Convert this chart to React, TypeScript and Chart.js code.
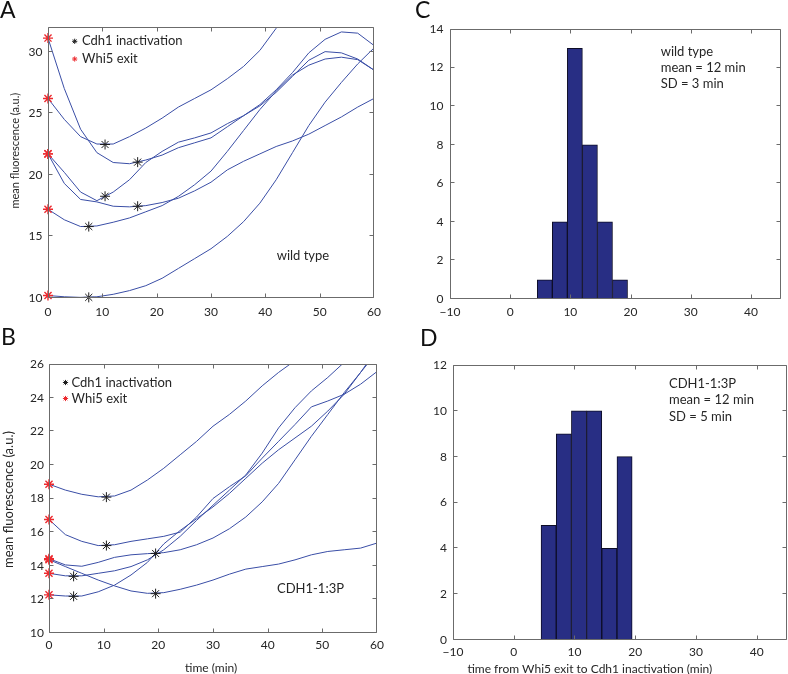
import React, { useEffect, useRef } from 'react';
import { Chart, registerables } from 'chart.js';

Chart.register(...registerables);

const FONT = 'Lato, "Open Sans", "DejaVu Sans", sans-serif';
const LINE_COLOR = '#3a4ea6';
const CDH1_COLOR = '#1e1e1e';
const WHI5_COLOR = '#ec2a2f';
const BAR_COLOR = '#282e84';
const BAR_EDGE = '#0d0d26';
const AXIS_COLOR = '#6b6b6b';
const TEXT_COLOR = '#262626';

// ---------- shared sampling grid (min) ----------
const sampleTimes = [0, 3, 6, 9, 12, 15, 18, 21, 24, 27, 30, 33, 36, 39, 42, 45, 48, 51, 54, 57, 60];
const WHI5_EXIT_TIME = 0;

// ---------- Panel A: wild type single-cell traces ----------
const wtCell1 = [31.1, 27.0, 23.7, 21.8, 21.0, 20.9, 21.2, 21.6, 22.2, 22.6, 23.0, 23.9, 24.8, 25.7, 26.9, 28.3, 29.9, 31.0, 31.6, 31.5, 30.5];
const wtCell2 = [26.2, 24.5, 23.1, 22.5, 22.5, 23.1, 23.8, 24.6, 25.5, 26.2, 26.9, 27.8, 28.8, 30.1, 31.9, 33.6];
const wtCell3 = [21.7, 20.2, 18.6, 17.9, 18.6, 19.6, 21.0, 21.9, 22.65, 23.0, 23.4, 24.15, 24.8, 25.6, 26.7, 28.0, 29.3, 30.0, 29.9, 29.4, 28.5];
const wtCell4 = [21.7, 19.3, 18.0, 17.8, 17.45, 17.4, 17.5, 17.75, 18.1, 18.7, 19.4, 20.4, 21.1, 21.7, 22.3, 22.75, 23.3, 24.0, 24.7, 25.5, 26.2];
const wtCell5 = [17.2, 16.35, 15.8, 15.85, 16.15, 16.5, 17.0, 17.5, 18.25, 19.2, 20.3, 21.9, 23.6, 25.3, 26.8, 28.1, 28.9, 29.4, 29.55, 29.35, 28.5];
const wtCell6 = [10.2, 10.1, 10.05, 10.1, 10.3, 10.6, 11.0, 11.6, 12.4, 13.2, 14.0, 15.0, 16.2, 17.7, 19.6, 21.8, 24.0, 25.9, 27.5, 29.0, 30.3];
const wtTraces = [wtCell1, wtCell2, wtCell3, wtCell4, wtCell5, wtCell6];
const wtWhi5ExitValue = [31.1, 26.2, 21.7, 21.7, 17.2, 10.2];
const wtCdh1Time = [16.5, 10.5, 10.5, 16.5, 7.5, 7.5];
const wtCdh1Value = [21.03, 22.46, 18.26, 17.45, 15.8, 10.05];

// ---------- Panel B: CDH1-1:3P single-cell traces ----------
const mutCell1 = [18.85, 18.5, 18.25, 18.1, 18.15, 18.5, 19.1, 19.8, 20.6, 21.4, 22.3, 23.0, 23.8, 24.7, 25.5, 26.2];
const mutCell2 = [16.75, 15.85, 15.45, 15.2, 15.25, 15.45, 15.6, 15.75, 16.0, 16.9, 18.0, 18.7, 19.35, 20.4, 21.4, 22.4, 23.45, 23.8, 24.2, 24.8, 25.55];
const mutCell3 = [14.42, 14.05, 13.97, 14.2, 14.5, 14.65, 14.72, 14.78, 14.95, 15.25, 15.65, 16.2, 16.9, 17.8, 18.9, 20.3, 21.7, 23.0, 24.3, 25.5, 26.7];
const mutCell4 = [14.36, 13.95, 13.55, 13.15, 12.8, 12.5, 12.36, 12.4, 12.6, 12.85, 13.15, 13.5, 13.8, 13.95, 14.1, 14.35, 14.65, 14.85, 14.95, 15.05, 15.35];
const mutCell5 = [13.55, 13.4, 13.4, 13.55, 13.7, 13.95, 14.35, 14.95, 15.75, 16.7, 17.6, 18.5, 19.4, 20.7, 22.2, 23.4, 24.4, 25.2, 26.1];
const mutCell6 = [12.27, 12.2, 12.2, 12.45, 12.85, 13.45, 14.2, 15.3, 16.1, 16.8, 17.5, 18.3, 19.2, 20.1, 20.9, 21.6, 22.3, 23.2, 24.2, 25.5, 26.9];
const mutTraces = [mutCell1, mutCell2, mutCell3, mutCell4, mutCell5, mutCell6];
const mutWhi5ExitValue = [18.85, 16.75, 14.42, 14.36, 13.55, 12.27];
const mutCdh1Time = [10.5, 10.5, 19.5, 19.5, 4.5, 4.5];
const mutCdh1Value = [18.08, 15.2, 14.73, 12.34, 13.37, 12.18];

// ---------- Panels C/D: histograms of Whi5 exit -> Cdh1 inactivation ----------
const binCenters = [5.75, 8.25, 10.75, 13.25, 15.75, 18.25];
const wtCounts = [1, 4, 13, 8, 4, 1];
const mutCounts = [5, 9, 10, 10, 4, 8];

// ---------- tick values ----------
const traceTimeTicks = [0, 10, 20, 30, 40, 50, 60];
const wtFluorTicks = [10, 15, 20, 25, 30];
const mutFluorTicks = [10, 12, 14, 16, 18, 20, 22, 24, 26];
const histTimeTicks = [-10, 0, 10, 20, 30, 40];
const wtCountTicks = [0, 2, 4, 6, 8, 10, 12, 14];
const mutCountTicks = [0, 2, 4, 6, 8, 10, 12];

const fmtTick = (v: number) => (v < 0 ? '\u2212' + Math.abs(v) : String(v));

type Area = { left: number; top: number; right: number; bottom: number };
type Note = { text: string; dx: number; dy: number; size: number; align?: CanvasTextAlign; rotate?: boolean; fromBottom?: boolean };
type Mark = { dx: number; dy: number; color: string };

function drawAsterisk(ctx: CanvasRenderingContext2D, cx: number, cy: number, r: number, color: string) {
  ctx.save();
  ctx.strokeStyle = color;
  ctx.lineWidth = 1;
  ctx.beginPath();
  for (let k = 0; k < 4; k++) {
    const a = (k * Math.PI) / 4;
    ctx.moveTo(cx - r * Math.cos(a), cy - r * Math.sin(a));
    ctx.lineTo(cx + r * Math.cos(a), cy + r * Math.sin(a));
  }
  ctx.stroke();
  ctx.restore();
}

function makeDecor(notes: Note[], marks: Mark[]) {
  return {
    id: 'decor',
    afterDraw(chart: any) {
      const ctx: CanvasRenderingContext2D = chart.ctx;
      const a = chart.chartArea;
      const xs = chart.scales.x;
      const ys = chart.scales.y;
      ctx.save();
      ctx.strokeStyle = AXIS_COLOR;
      ctx.lineWidth = 1;
      const L = a.left + 0.5, R = a.right - 0.5, T = a.top + 0.5, B = a.bottom - 0.5;
      const len = 4;
      ctx.beginPath();
      ctx.rect(L, T, R - L, B - T);
      for (const t of xs.ticks) {
        const p = Math.min(R, Math.max(L, Math.round(xs.getPixelForValue(t.value)) + 0.5));
        ctx.moveTo(p, B); ctx.lineTo(p, B - len);
        ctx.moveTo(p, T); ctx.lineTo(p, T + len);
      }
      for (const t of ys.ticks) {
        const p = Math.min(B, Math.max(T, Math.round(ys.getPixelForValue(t.value)) - 0.5));
        ctx.moveTo(L, p); ctx.lineTo(L + len, p);
        ctx.moveTo(R, p); ctx.lineTo(R - len, p);
      }
      ctx.stroke();
      for (const m of marks) drawAsterisk(ctx, a.left + m.dx, a.top + m.dy, 2.6, m.color);
      ctx.fillStyle = TEXT_COLOR;
      ctx.textBaseline = 'middle';
      for (const n of notes) {
        ctx.font = `${n.size}px ${FONT}`;
        ctx.textAlign = n.align || 'left';
        const px = a.left + n.dx;
        const py = n.fromBottom ? a.bottom + n.dy : a.top + n.dy;
        if (n.rotate) {
          ctx.save();
          ctx.translate(px, py);
          ctx.rotate(-Math.PI / 2);
          ctx.fillText(n.text, 0, 0);
          ctx.restore();
        } else {
          ctx.fillText(n.text, px, py);
        }
      }
      ctx.restore();
    },
  };
}

function linearAxis(min: number, max: number, values: number[], pad: number, fit: (s: any) => void) {
  return {
    type: 'linear',
    min,
    max,
    offset: false,
    grid: { display: false, drawTicks: false, offset: false },
    border: { display: false },
    afterBuildTicks: (s: any) => {
      s.ticks = values.map((v) => ({ value: v }));
    },
    afterFit: fit,
    ticks: {
      padding: pad,
      autoSkip: false,
      maxRotation: 0,
      minRotation: 0,
      color: TEXT_COLOR,
      font: { family: FONT, size: 12 },
      callback: (v: any) => fmtTick(Number(v)),
    },
  };
}

function baseOptions(W: number, H: number, area: Area) {
  return {
    responsive: false,
    animation: false,
    devicePixelRatio: 1,
    events: [],
    layout: { padding: { left: 0, top: area.top, right: W - area.right, bottom: 0 }, autoPadding: false },
    plugins: { legend: { display: false }, tooltip: { enabled: false } },
  };
}

function traceConfig(
  W: number, H: number, area: Area,
  traces: number[][], whi5: number[], cdh1T: number[], cdh1V: number[],
  yMin: number, yMax: number, yTicks: number[], xPad: number, yPad: number,
  notes: Note[], marks: Mark[]
): any {
  const datasets: any[] = [
    {
      label: 'Cdh1 inactivation',
      data: cdh1T.map((t, i) => ({ x: t, y: cdh1V[i] })),
      pointStyle: 'star', pointRadius: 5, borderColor: CDH1_COLOR, backgroundColor: CDH1_COLOR,
      borderWidth: 1, showLine: false, clip: false, order: 0,
    },
    {
      label: 'Whi5 exit',
      data: whi5.map((v) => ({ x: WHI5_EXIT_TIME, y: v })),
      pointStyle: 'star', pointRadius: 5, borderColor: WHI5_COLOR, backgroundColor: WHI5_COLOR,
      borderWidth: 1.4, showLine: false, clip: false, order: 0,
    },
    ...traces.map((tr, k) => ({
      label: `cell ${k + 1}`,
      data: tr.map((v, i) => ({ x: sampleTimes[i], y: v })),
      showLine: true, borderColor: LINE_COLOR, borderWidth: 1, pointRadius: 0, tension: 0, order: 1,
    })),
  ];
  const o: any = baseOptions(W, H, area);
  o.scales = {
    x: linearAxis(0, 60, traceTimeTicks, xPad, (s: any) => { s.height = H - area.bottom; }),
    y: linearAxis(yMin, yMax, yTicks, yPad, (s: any) => { s.width = area.left; }),
  };
  return { type: 'scatter', data: { datasets }, options: o, plugins: [makeDecor(notes, marks)] };
}

function histConfig(
  W: number, H: number, area: Area, counts: number[], yMax: number, yTicks: number[],
  xPad: number, yPad: number, notes: Note[]
): any {
  const o: any = baseOptions(W, H, area);
  o.scales = {
    x: linearAxis(-10, 45, histTimeTicks, xPad, (s: any) => { s.height = H - area.bottom; }),
    y: linearAxis(0, yMax, yTicks, yPad, (s: any) => { s.width = area.left; }),
  };
  return {
    type: 'bar',
    data: {
      datasets: [
        {
          label: 'cells',
          data: binCenters.map((c, i) => ({ x: c, y: counts[i] })),
          backgroundColor: BAR_COLOR,
          borderColor: BAR_EDGE,
          borderWidth: 1,
          borderSkipped: false,
          barPercentage: 1,
          categoryPercentage: 1,
        },
      ],
    },
    options: o,
    plugins: [makeDecor(notes, [])],
  };
}

const PW = 394;
const PH = 337;
const areaA: Area = { left: 48, top: 27, right: 374, bottom: 298 };
const areaB: Area = { left: 49, top: 27, right: 377, bottom: 296 };
const areaC: Area = { left: 56, top: 29, right: 387, bottom: 299 };
const areaD: Area = { left: 59, top: 28, right: 393, bottom: 303 };

const buildA = () =>
  traceConfig(PW, PH, areaA, wtTraces, wtWhi5ExitValue, wtCdh1Time, wtCdh1Value, 10, 32, wtFluorTicks, 6.5, 5.5,
    [
      { text: 'mean fluorescence (a.u.)', dx: -33, dy: 123.7, size: 11, align: 'center', rotate: true },
      { text: 'Cdh1 inactivation', dx: 34, dy: 14.3, size: 13 },
      { text: 'Whi5 exit', dx: 34, dy: 32, size: 13 },
      { text: 'wild type', dx: 228.7, dy: 228.7, size: 13 },
    ],
    [
      { dx: 26.7, dy: 14.3, color: CDH1_COLOR },
      { dx: 26.7, dy: 32, color: WHI5_COLOR },
    ]);

const buildB = () =>
  traceConfig(PW, PH, areaB, mutTraces, mutWhi5ExitValue, mutCdh1Time, mutCdh1Value, 10, 26, mutFluorTicks, 5, 5,
    [
      { text: 'mean fluorescence (a.u.)', dx: -40.3, dy: 135.5, size: 13, align: 'center', rotate: true },
      { text: 'Cdh1 inactivation', dx: 22.5, dy: 18.5, size: 13 },
      { text: 'Whi5 exit', dx: 22.5, dy: 34.5, size: 13 },
      { text: 'CDH1-1:3P', dx: 228, dy: 224.7, size: 13 },
      { text: 'time (min)', dx: 162.2, dy: 35, size: 12, align: 'center', fromBottom: true },
    ],
    [
      { dx: 16.5, dy: 18.5, color: CDH1_COLOR },
      { dx: 16.5, dy: 34.5, color: WHI5_COLOR },
    ]);

const buildC = () =>
  histConfig(PW, PH, areaC, wtCounts, 14, wtCountTicks, 5.5, 6.5, [
    { text: 'wild type', dx: 210.7, dy: 22.7, size: 13 },
    { text: 'mean = 12 min', dx: 210.7, dy: 38.7, size: 13 },
    { text: 'SD = 3 min', dx: 210.7, dy: 55.3, size: 13 },
  ]);

const buildD = () =>
  histConfig(PW, PH, areaD, mutCounts, 12, mutCountTicks, 5, 6, [
    { text: 'CDH1-1:3P', dx: 216, dy: 19.3, size: 13 },
    { text: 'mean = 12 min', dx: 216, dy: 35.3, size: 13 },
    { text: 'SD = 5 min', dx: 216, dy: 52, size: 13 },
    { text: 'time from Whi5 exit to Cdh1 inactivation (min)', dx: 136.8, dy: 29, size: 12, align: 'center', fromBottom: true },
  ]);

function ChartCanvas({ left, top, build }: { left: number; top: number; build: () => any }) {
  const ref = useRef<HTMLCanvasElement>(null);
  useEffect(() => {
    if (!ref.current) return;
    const chart = new Chart(ref.current, build());
    return () => chart.destroy();
  }, [build]);
  return (
    <canvas
      ref={ref}
      width={PW}
      height={PH}
      style={{ position: 'absolute', left, top, width: PW, height: PH, display: 'block' }}
    />
  );
}

const letterStyle = (left: number, top: number): React.CSSProperties => ({
  position: 'absolute',
  left,
  top,
  fontSize: 23,
  lineHeight: '23px',
  fontFamily: FONT,
  color: '#111',
});

export default function App() {
  return (
    <div style={{ position: 'absolute', left: 0, top: 0, width: 788, height: 674, background: '#fff', overflow: 'hidden' }}>
      <ChartCanvas left={0} top={0} build={buildA} />
      <ChartCanvas left={0} top={337} build={buildB} />
      <ChartCanvas left={394} top={0} build={buildC} />
      <ChartCanvas left={394} top={337} build={buildD} />
      <div style={letterStyle(0, -2)}>A</div>
      <div style={letterStyle(1, 325)}>B</div>
      <div style={letterStyle(415, -2)}>C</div>
      <div style={letterStyle(420, 326)}>D</div>
    </div>
  );
}
